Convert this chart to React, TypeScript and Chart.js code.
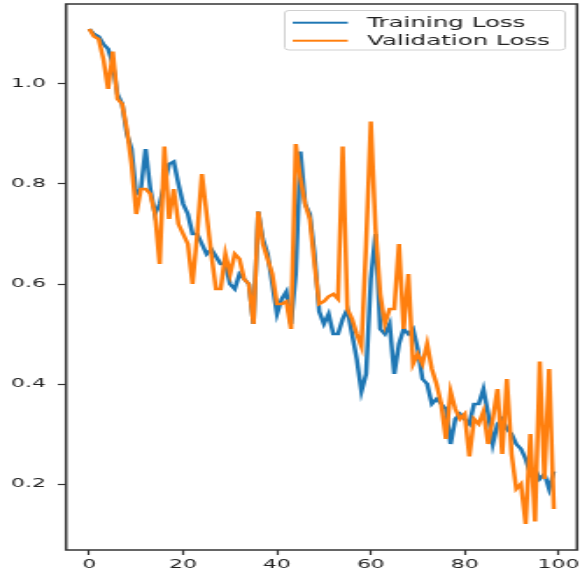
import React, { useEffect, useRef } from "react";
import { Chart, registerables } from "chart.js";

Chart.register(...registerables);

// ---- data ----
const EPOCHS = Array.from({ length: 100 }, (_, i) => i);

const TRAINING_LOSS = [
  1.11, 1.1, 1.095, 1.08, 1.07, 1.04, 0.98, 0.96, 0.9, 0.87,
  0.78, 0.79, 0.87, 0.79, 0.74, 0.76, 0.8, 0.84, 0.845, 0.8,
  0.76, 0.74, 0.7, 0.7, 0.68, 0.66, 0.67, 0.655, 0.64, 0.64,
  0.6, 0.59, 0.62, 0.61, 0.6, 0.52, 0.745, 0.69, 0.66, 0.6,
  0.54, 0.57, 0.585, 0.52, 0.62, 0.865, 0.76, 0.74, 0.66, 0.545,
  0.52, 0.54, 0.5, 0.5, 0.53, 0.55, 0.5, 0.45, 0.385, 0.42,
  0.61, 0.7, 0.51, 0.5, 0.52, 0.42, 0.48, 0.51, 0.5, 0.51,
  0.47, 0.41, 0.4, 0.36, 0.37, 0.36, 0.35, 0.28, 0.33, 0.34,
  0.33, 0.32, 0.36, 0.36, 0.39, 0.34, 0.28, 0.32, 0.33, 0.31,
  0.3, 0.28, 0.27, 0.25, 0.22, 0.23, 0.21, 0.22, 0.19, 0.225,
];

const VALIDATION_LOSS = [
  1.11, 1.095, 1.09, 1.05, 0.99, 1.065, 0.97, 0.96, 0.91, 0.84,
  0.74, 0.79, 0.79, 0.78, 0.74, 0.64, 0.875, 0.73, 0.79, 0.72,
  0.7, 0.68, 0.6, 0.7, 0.82, 0.74, 0.66, 0.59, 0.59, 0.66,
  0.62, 0.66, 0.65, 0.61, 0.6, 0.52, 0.745, 0.68, 0.65, 0.62,
  0.56, 0.56, 0.565, 0.51, 0.88, 0.81, 0.76, 0.73, 0.64, 0.56,
  0.565, 0.575, 0.58, 0.57, 0.875, 0.55, 0.53, 0.5, 0.475, 0.68,
  0.925, 0.71, 0.58, 0.52, 0.55, 0.55, 0.68, 0.51, 0.62, 0.44,
  0.46, 0.44, 0.48, 0.43, 0.4, 0.36, 0.29, 0.385, 0.35, 0.33,
  0.34, 0.255, 0.33, 0.32, 0.345, 0.28, 0.33, 0.39, 0.26, 0.41,
  0.26, 0.19, 0.2, 0.12, 0.3, 0.125, 0.445, 0.21, 0.43, 0.15,
];

const SERIES_LABELS = ["Training Loss", "Validation Loss"];
const SERIES_COLORS = ["#1f77b4", "#ff7f0e"];
const X_TICKS = [0, 20, 40, 60, 80, 100];
const Y_TICKS = [0.2, 0.4, 0.6, 0.8, 1.0];
const X_LIMITS = [-4.95, 103.95];
const Y_LIMITS = [0.068, 1.16];

// ---- layout ----
const CSS_W = 580;
const CSS_H = 575;
const STRETCH = 1.752; // reference image is stretched horizontally
const CANVAS_W = Math.round(CSS_W / STRETCH);
const AREA_LEFT = 37.7;
const AREA_RIGHT = 329.3;
const AREA_TOP = 4;
const AREA_BOTTOM = 550;
const FONT = '"DejaVu Sans", "Liberation Sans", sans-serif';
const INK = "#222";

const framePlugin = {
  id: "frame",
  afterDatasetsDraw(chart: any) {
    const { ctx, chartArea: a } = chart;
    ctx.save();
    ctx.strokeStyle = "#333";
    ctx.lineWidth = 1.5;
    ctx.strokeRect(a.left, a.top, a.right - a.left, a.bottom - a.top);
    ctx.restore();
  },
};

const boxLegendPlugin = {
  id: "boxLegend",
  afterDraw(chart: any) {
    const { ctx, chartArea: a } = chart;
    const right = a.right - 6.8;
    const width = 160;
    const left = right - width;
    const top = a.top + 6.5;
    const bottom = a.top + 46;
    ctx.save();
    ctx.beginPath();
    ctx.roundRect(left, top, width, bottom - top, 2.5);
    ctx.fillStyle = "rgba(255,255,255,0.8)";
    ctx.fill();
    ctx.strokeStyle = "#d0d0d0";
    ctx.lineWidth = 1;
    ctx.stroke();
    ctx.font = `14px ${FONT}`;
    ctx.textBaseline = "middle";
    ctx.textAlign = "left";
    chart.data.datasets.forEach((ds: any, i: number) => {
      const y = a.top + 18.7 + i * 18;
      ctx.beginPath();
      ctx.moveTo(left + 4.5, y);
      ctx.lineTo(left + 36, y);
      ctx.strokeStyle = ds.borderColor;
      ctx.lineWidth = 2;
      ctx.stroke();
      ctx.fillStyle = INK;
      ctx.fillText(ds.label, left + 47, y + 0.5);
    });
    ctx.restore();
  },
};

export default function App() {
  const canvasRef = useRef<HTMLCanvasElement | null>(null);

  useEffect(() => {
    const canvas = canvasRef.current;
    if (!canvas) return;
    const series = [TRAINING_LOSS, VALIDATION_LOSS];
    const chart = new Chart(canvas, {
      type: "line",
      data: {
        datasets: series.map((values, k) => ({
          label: SERIES_LABELS[k],
          data: values.map((v, i) => ({ x: EPOCHS[i], y: v })),
          borderColor: SERIES_COLORS[k],
          backgroundColor: SERIES_COLORS[k],
          borderWidth: 2.5,
          pointRadius: 0,
          tension: 0,
          fill: false,
          order: k === 1 ? 0 : 1,
        })),
      },
      options: {
        animation: false,
        responsive: false,
        devicePixelRatio: 1,
        layout: {
          padding: {
            left: 0,
            top: AREA_TOP,
            right: CANVAS_W - AREA_RIGHT,
            bottom: 0,
          },
        },
        plugins: {
          legend: { display: false },
          tooltip: { enabled: false },
          title: { display: false },
        },
        scales: {
          x: {
            type: "linear",
            min: X_LIMITS[0],
            max: X_LIMITS[1],
            afterBuildTicks: (scale: any) => {
              scale.ticks = X_TICKS.map((value) => ({ value }));
            },
            afterFit: (scale: any) => {
              scale.height = CSS_H - AREA_BOTTOM;
              scale.paddingLeft = 0;
              scale.paddingRight = 0;
            },
            border: { display: false },
            grid: {
              drawOnChartArea: false,
              drawTicks: true,
              tickLength: 5,
              tickWidth: 1.2,
              tickColor: "#333",
              color: "#333",
            },
            ticks: {
              autoSkip: false,
              maxRotation: 0,
              padding: 2,
              color: INK,
              font: { family: FONT, size: 12.5 },
              callback: (v: any) => String(v),
            },
          },
          y: {
            type: "linear",
            min: Y_LIMITS[0],
            max: Y_LIMITS[1],
            afterBuildTicks: (scale: any) => {
              scale.ticks = Y_TICKS.map((value) => ({ value }));
            },
            afterFit: (scale: any) => {
              scale.width = AREA_LEFT;
              scale.paddingTop = 0;
              scale.paddingBottom = 0;
            },
            border: { display: false },
            grid: {
              drawOnChartArea: false,
              drawTicks: true,
              tickLength: 4.7,
              tickWidth: 1.2,
              tickColor: "#333",
              color: "#333",
            },
            ticks: {
              autoSkip: false,
              padding: 6.9,
              color: INK,
              font: { family: FONT, size: 12.5 },
              callback: (v: any) => Number(v).toFixed(1),
            },
          },
        },
      },
      plugins: [framePlugin, boxLegendPlugin],
    });
    return () => chart.destroy();
  }, []);

  return (
    <div
      style={{
        position: "absolute",
        left: 0,
        top: 0,
        width: CSS_W,
        height: CSS_H,
        background: "#fff",
      }}
    >
      <canvas
        ref={canvasRef}
        width={CANVAS_W}
        height={CSS_H}
        style={{
          width: `${CSS_W}px`,
          height: `${CSS_H}px`,
          display: "block",
          filter: "blur(0.4px)",
        }}
      />
    </div>
  );
}
